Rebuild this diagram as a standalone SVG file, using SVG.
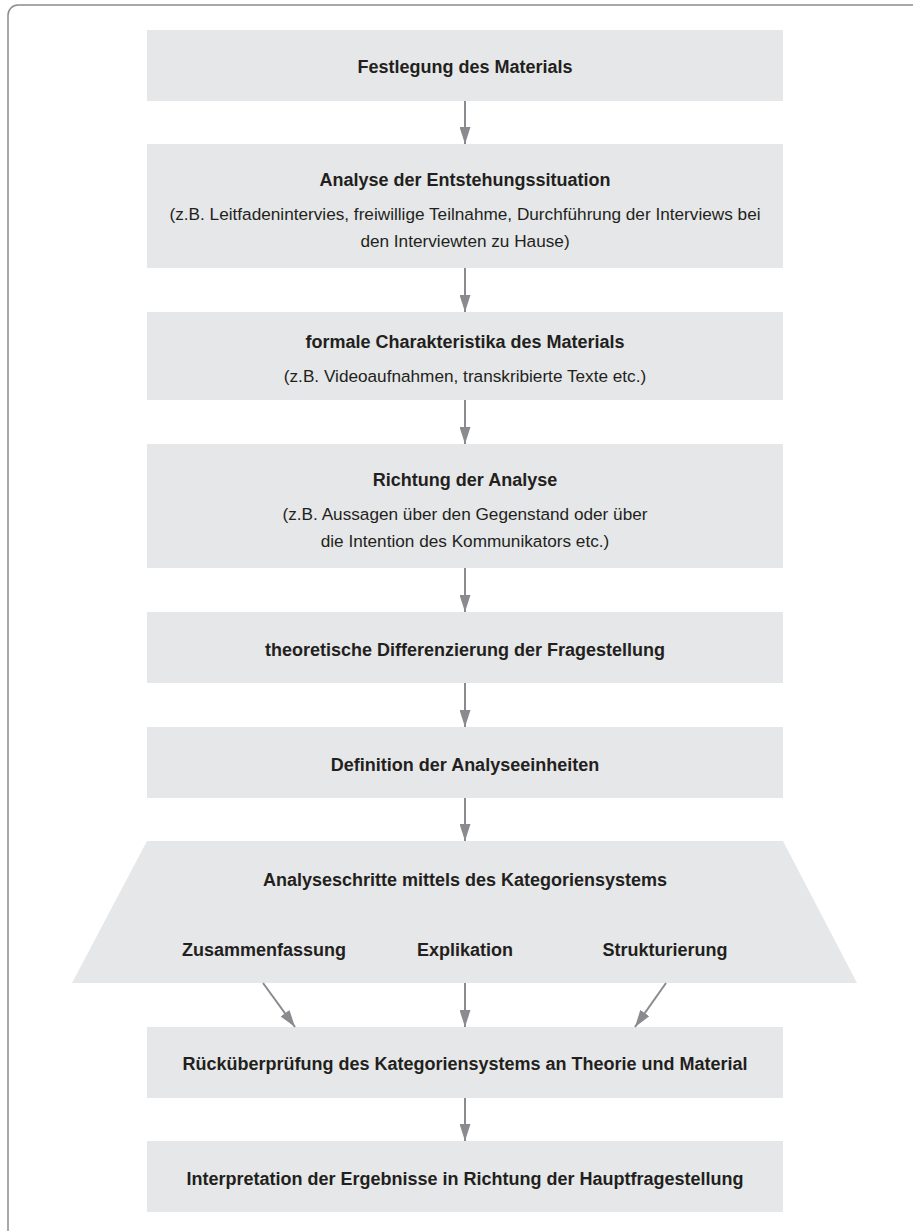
<svg xmlns="http://www.w3.org/2000/svg" width="913" height="1231" viewBox="0 0 913 1231">
<defs>
<style>
.box{fill:#e6e7e8;}
.t{font-family:"Liberation Sans",Arial,sans-serif;font-size:18px;font-weight:bold;fill:#231f20;text-anchor:middle;}
.s{font-family:"Liberation Sans",Arial,sans-serif;font-size:17.2px;fill:#231f20;text-anchor:middle;}
.c{stroke:#8a8b8e;stroke-width:2;fill:none;}
</style>
<marker id="ah" markerUnits="userSpaceOnUse" markerWidth="17" markerHeight="11" refX="17" refY="5.5" orient="auto">
<path d="M0,0 L17,5.5 L0,11 Z" fill="#8a8b8e"/>
</marker>
</defs>
<rect width="913" height="1231" fill="#ffffff"/>
<rect x="8" y="5" width="1000" height="1300" rx="10" fill="none" stroke="#8c8c8c" stroke-width="1.5"/>

<g id="n1"><rect class="box" x="147" y="30" width="636" height="71"/><text class="t" x="465" y="73">Festlegung des Materials</text></g>
<g id="n2"><rect class="box" x="147" y="144" width="636" height="124"/><text class="t" x="465" y="186">Analyse der Entstehungssituation</text><text class="s" x="465" y="220">(z.B. Leitfadenintervies, freiwillige Teilnahme, Durchführung der Interviews bei</text><text class="s" x="465" y="247">den Interviewten zu Hause)</text></g>
<g id="n3"><rect class="box" x="147" y="312" width="636" height="88"/><text class="t" x="465" y="348">formale Charakteristika des Materials</text><text class="s" x="465" y="382">(z.B. Videoaufnahmen, transkribierte Texte etc.)</text></g>
<g id="n4"><rect class="box" x="147" y="444" width="636" height="124"/><text class="t" x="465" y="486">Richtung der Analyse</text><text class="s" x="465" y="520">(z.B. Aussagen über den Gegenstand oder über</text><text class="s" x="465" y="547">die Intention des Kommunikators etc.)</text></g>
<g id="n5"><rect class="box" x="147" y="612" width="636" height="71"/><text class="t" x="465" y="656">theoretische Differenzierung der Fragestellung</text></g>
<g id="n6"><rect class="box" x="147" y="727" width="636" height="71"/><text class="t" x="465" y="771">Definition der Analyseeinheiten</text></g>
<g id="n7"><polygon class="box" points="147,841 783,841 857,983 72,983"/><text class="t" x="465" y="886">Analyseschritte mittels des Kategoriensystems</text><text class="t" x="264" y="956">Zusammenfassung</text><text class="t" x="465" y="956">Explikation</text><text class="t" x="665" y="956">Strukturierung</text></g>
<g id="n8"><rect class="box" x="147" y="1027" width="636" height="71"/><text class="t" x="465" y="1070">Rücküberprüfung des Kategoriensystems an Theorie und Material</text></g>
<g id="n9"><rect class="box" x="147" y="1141" width="636" height="71"/><text class="t" x="465" y="1185">Interpretation der Ergebnisse in Richtung der Hauptfragestellung</text></g>

<g id="connectors">
<line class="c" x1="465" y1="101" x2="465" y2="144" marker-end="url(#ah)"/>
<line class="c" x1="465" y1="268" x2="465" y2="312" marker-end="url(#ah)"/>
<line class="c" x1="465" y1="400" x2="465" y2="444" marker-end="url(#ah)"/>
<line class="c" x1="465" y1="568" x2="465" y2="612" marker-end="url(#ah)"/>
<line class="c" x1="465" y1="683" x2="465" y2="727" marker-end="url(#ah)"/>
<line class="c" x1="465" y1="798" x2="465" y2="841" marker-end="url(#ah)"/>
<line class="c" x1="263" y1="983" x2="295" y2="1027" marker-end="url(#ah)"/>
<line class="c" x1="465" y1="983" x2="465" y2="1027" marker-end="url(#ah)"/>
<line class="c" x1="666" y1="983" x2="635" y2="1027" marker-end="url(#ah)"/>
<line class="c" x1="465" y1="1098" x2="465" y2="1141" marker-end="url(#ah)"/>
</g>
</svg>
